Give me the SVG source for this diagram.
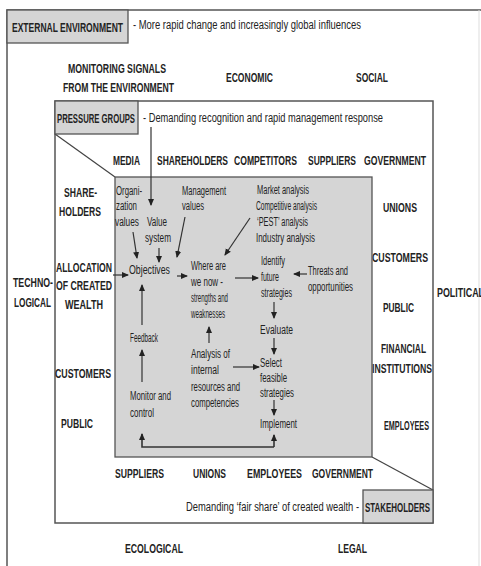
<svg xmlns="http://www.w3.org/2000/svg" width="481" height="566" viewBox="0 0 481 566">
<defs>
<marker id="ah" markerWidth="7" markerHeight="7" refX="6" refY="3.5" orient="auto" markerUnits="userSpaceOnUse">
<path d="M0,0.5 L7,3.5 L0,6.5 Z" fill="#222"/>
</marker>
<style>
.cap{font-family:"Liberation Sans Narrow","Liberation Sans",Arial,sans-serif;font-weight:bold;font-size:13.5px;fill:#222}
.md{font-family:"Liberation Sans Narrow","Liberation Sans",Arial,sans-serif;font-size:12.5px;fill:#222}
.sm{font-family:"Liberation Sans Narrow","Liberation Sans",Arial,sans-serif;font-size:12px;fill:#222}
.frame{fill:none;stroke:#555;stroke-width:1.5}
.shade{fill:#d5d5d5;stroke:#555;stroke-width:1.3}
.ln{fill:none;stroke:#444;stroke-width:1.2}
.arr{fill:none;stroke:#333;stroke-width:1.2;marker-end:url(#ah)}
</style>
</defs>
<rect x="0" y="0" width="481" height="566" fill="#fff"/>

<g id="external-environment">
<path class="frame" d="M7,566 V10 H481"/>
<line x1="479" y1="10" x2="479" y2="566" stroke="#ddd" stroke-width="1"/>
<rect class="shade" x="7" y="10" width="121" height="33"/>
<text class="cap" x="12" y="32" textLength="111" lengthAdjust="spacingAndGlyphs">EXTERNAL ENVIRONMENT</text>
<text class="md" x="133" y="29" textLength="228" lengthAdjust="spacingAndGlyphs">- More rapid change and increasingly global influences</text>
<text class="cap" x="68" y="73" textLength="98" lengthAdjust="spacingAndGlyphs">MONITORING SIGNALS</text>
<text class="cap" x="63" y="92" textLength="111" lengthAdjust="spacingAndGlyphs">FROM THE ENVIRONMENT</text>
<text class="cap" x="226" y="82" textLength="47" lengthAdjust="spacingAndGlyphs">ECONOMIC</text>
<text class="cap" x="356" y="82" textLength="32" lengthAdjust="spacingAndGlyphs">SOCIAL</text>
<text class="cap" x="13" y="287" textLength="40" lengthAdjust="spacingAndGlyphs">TECHNO-</text>
<text class="cap" x="14" y="307" textLength="37" lengthAdjust="spacingAndGlyphs">LOGICAL</text>
<text class="cap" x="437" y="297" textLength="47" lengthAdjust="spacingAndGlyphs">POLITICAL</text>
<text class="cap" x="125" y="553" textLength="58" lengthAdjust="spacingAndGlyphs">ECOLOGICAL</text>
<text class="cap" x="338" y="553" textLength="29" lengthAdjust="spacingAndGlyphs">LEGAL</text>
</g>

<g id="stakeholder-frame">
<rect class="frame" x="55" y="101" width="378" height="422"/>
<line class="ln" x1="55" y1="134" x2="115" y2="177"/>
<line class="ln" x1="372" y1="457" x2="433" y2="490"/>
</g>

<g id="pressure-groups">
<rect class="shade" x="55" y="101" width="83" height="33"/>
<text class="cap" x="57" y="123" textLength="78" lengthAdjust="spacingAndGlyphs">PRESSURE GROUPS</text>
<text class="md" x="143" y="122" textLength="240" lengthAdjust="spacingAndGlyphs">- Demanding recognition and rapid management response</text>
<text class="cap" x="113" y="165" textLength="27" lengthAdjust="spacingAndGlyphs">MEDIA</text>
<text class="cap" x="157" y="165" textLength="71" lengthAdjust="spacingAndGlyphs">SHAREHOLDERS</text>
<text class="cap" x="234" y="165" textLength="63" lengthAdjust="spacingAndGlyphs">COMPETITORS</text>
<text class="cap" x="308" y="165" textLength="48" lengthAdjust="spacingAndGlyphs">SUPPLIERS</text>
<text class="cap" x="364" y="165" textLength="62" lengthAdjust="spacingAndGlyphs">GOVERNMENT</text>
</g>

<g id="left-stakeholders">
<text class="cap" x="64" y="197" textLength="33" lengthAdjust="spacingAndGlyphs">SHARE-</text>
<text class="cap" x="59" y="216" textLength="42" lengthAdjust="spacingAndGlyphs">HOLDERS</text>
<text class="cap" x="56" y="272" textLength="56" lengthAdjust="spacingAndGlyphs">ALLOCATION</text>
<text class="cap" x="56" y="290" textLength="56" lengthAdjust="spacingAndGlyphs">OF CREATED</text>
<text class="cap" x="65" y="309" textLength="38" lengthAdjust="spacingAndGlyphs">WEALTH</text>
<text class="cap" x="55" y="378" textLength="56" lengthAdjust="spacingAndGlyphs">CUSTOMERS</text>
<text class="cap" x="61" y="428" textLength="32" lengthAdjust="spacingAndGlyphs">PUBLIC</text>
</g>

<g id="right-stakeholders">
<text class="cap" x="383" y="212" textLength="34" lengthAdjust="spacingAndGlyphs">UNIONS</text>
<text class="cap" x="372" y="262" textLength="56" lengthAdjust="spacingAndGlyphs">CUSTOMERS</text>
<text class="cap" x="383" y="312" textLength="31" lengthAdjust="spacingAndGlyphs">PUBLIC</text>
<text class="cap" x="381" y="353" textLength="45" lengthAdjust="spacingAndGlyphs">FINANCIAL</text>
<text class="cap" x="372" y="373" textLength="60" lengthAdjust="spacingAndGlyphs">INSTITUTIONS</text>
<text class="cap" x="384" y="430" textLength="45" lengthAdjust="spacingAndGlyphs">EMPLOYEES</text>
</g>

<g id="bottom-stakeholders">
<text class="cap" x="115" y="478" textLength="49" lengthAdjust="spacingAndGlyphs">SUPPLIERS</text>
<text class="cap" x="193" y="478" textLength="33" lengthAdjust="spacingAndGlyphs">UNIONS</text>
<text class="cap" x="247" y="478" textLength="55" lengthAdjust="spacingAndGlyphs">EMPLOYEES</text>
<text class="cap" x="312" y="478" textLength="61" lengthAdjust="spacingAndGlyphs">GOVERNMENT</text>
</g>

<g id="stakeholders">
<rect class="shade" x="363" y="490" width="70" height="33"/>
<text class="cap" x="365" y="512" textLength="65" lengthAdjust="spacingAndGlyphs">STAKEHOLDERS</text>
<text class="md" x="186" y="511" textLength="173" lengthAdjust="spacingAndGlyphs">Demanding ‘fair share’ of created wealth -</text>
</g>

<g id="management-process">
<rect class="shade" x="115" y="177" width="257" height="280"/>
</g>

<g id="organization-values">
<text class="sm" x="116" y="195" textLength="26" lengthAdjust="spacingAndGlyphs">Organi-</text>
<text class="sm" x="116" y="210" textLength="21" lengthAdjust="spacingAndGlyphs">zation</text>
<text class="sm" x="115" y="226" textLength="24" lengthAdjust="spacingAndGlyphs">values</text>
</g>
<g id="value-system">
<text class="sm" x="147" y="226" textLength="20" lengthAdjust="spacingAndGlyphs">Value</text>
<text class="sm" x="145" y="242" textLength="26" lengthAdjust="spacingAndGlyphs">system</text>
</g>
<g id="management-values">
<text class="sm" x="182" y="195" textLength="44" lengthAdjust="spacingAndGlyphs">Management</text>
<text class="sm" x="182" y="210" textLength="22" lengthAdjust="spacingAndGlyphs">values</text>
</g>
<g id="market-analysis">
<text class="sm" x="257" y="194" textLength="52" lengthAdjust="spacingAndGlyphs">Market analysis</text>
<text class="sm" x="256" y="210" textLength="61" lengthAdjust="spacingAndGlyphs">Competitive analysis</text>
<text class="sm" x="257" y="226" textLength="51" lengthAdjust="spacingAndGlyphs">‘PEST’ analysis</text>
<text class="sm" x="256" y="242" textLength="59" lengthAdjust="spacingAndGlyphs">Industry analysis</text>
</g>
<g id="objectives">
<text class="sm" x="129" y="274" textLength="41" lengthAdjust="spacingAndGlyphs">Objectives</text>
</g>
<g id="where-are-we-now">
<text class="sm" x="191" y="270" textLength="35" lengthAdjust="spacingAndGlyphs">Where are</text>
<text class="sm" x="191" y="286" textLength="32" lengthAdjust="spacingAndGlyphs">we now -</text>
<text class="sm" x="191" y="302" textLength="37" lengthAdjust="spacingAndGlyphs">strengths and</text>
<text class="sm" x="191" y="318" textLength="34" lengthAdjust="spacingAndGlyphs">weaknesses</text>
</g>
<g id="identify-future-strategies">
<text class="sm" x="261" y="265" textLength="24" lengthAdjust="spacingAndGlyphs">Identify</text>
<text class="sm" x="261" y="281" textLength="18" lengthAdjust="spacingAndGlyphs">future</text>
<text class="sm" x="261" y="297" textLength="31" lengthAdjust="spacingAndGlyphs">strategies</text>
</g>
<g id="threats-opportunities">
<text class="sm" x="308" y="275" textLength="40" lengthAdjust="spacingAndGlyphs">Threats and</text>
<text class="sm" x="308" y="291" textLength="45" lengthAdjust="spacingAndGlyphs">opportunities</text>
</g>
<g id="evaluate">
<text class="sm" x="260" y="334" textLength="33" lengthAdjust="spacingAndGlyphs">Evaluate</text>
</g>
<g id="select-feasible-strategies">
<text class="sm" x="260" y="367" textLength="22" lengthAdjust="spacingAndGlyphs">Select</text>
<text class="sm" x="260" y="382" textLength="27" lengthAdjust="spacingAndGlyphs">feasible</text>
<text class="sm" x="260" y="397" textLength="34" lengthAdjust="spacingAndGlyphs">strategies</text>
</g>
<g id="implement">
<text class="sm" x="260" y="428" textLength="37" lengthAdjust="spacingAndGlyphs">Implement</text>
</g>
<g id="internal-analysis">
<text class="sm" x="191" y="358" textLength="39" lengthAdjust="spacingAndGlyphs">Analysis of</text>
<text class="sm" x="191" y="374" textLength="28" lengthAdjust="spacingAndGlyphs">internal</text>
<text class="sm" x="191" y="391" textLength="49" lengthAdjust="spacingAndGlyphs">resources and</text>
<text class="sm" x="191" y="407" textLength="48" lengthAdjust="spacingAndGlyphs">competencies</text>
</g>
<g id="feedback">
<text class="sm" x="130" y="342" textLength="28" lengthAdjust="spacingAndGlyphs">Feedback</text>
</g>
<g id="monitor-control">
<text class="sm" x="130" y="400" textLength="41" lengthAdjust="spacingAndGlyphs">Monitor and</text>
<text class="sm" x="130" y="417" textLength="24" lengthAdjust="spacingAndGlyphs">control</text>
</g>

<g id="connectors">
<path class="arr" d="M151,127 V205"/>
<path class="arr" d="M113,275 H128"/>
<path class="arr" d="M133,232 L137,258"/>
<path class="arr" d="M159,248 V262"/>
<path class="arr" d="M185,217 L177,257"/>
<path class="arr" d="M177,276 H187"/>
<path class="arr" d="M250,218 L225,255"/>
<path class="arr" d="M235,278 H258"/>
<path class="arr" d="M307,274 H294"/>
<path class="arr" d="M274,302 V318"/>
<path class="arr" d="M274,338 V354"/>
<path class="arr" d="M233,367 H259"/>
<path class="arr" d="M209,343 V327"/>
<path class="arr" d="M274,400 V415"/>
<path class="arr" d="M142,382 V350"/>
<path class="arr" d="M142,325 V285"/>
<path class="arr" d="M274,447 V435" style="stroke-width:1.6"/>
<path class="arr" d="M274,447 H142 V434" style="stroke-width:1.6"/>
</g>
</svg>
